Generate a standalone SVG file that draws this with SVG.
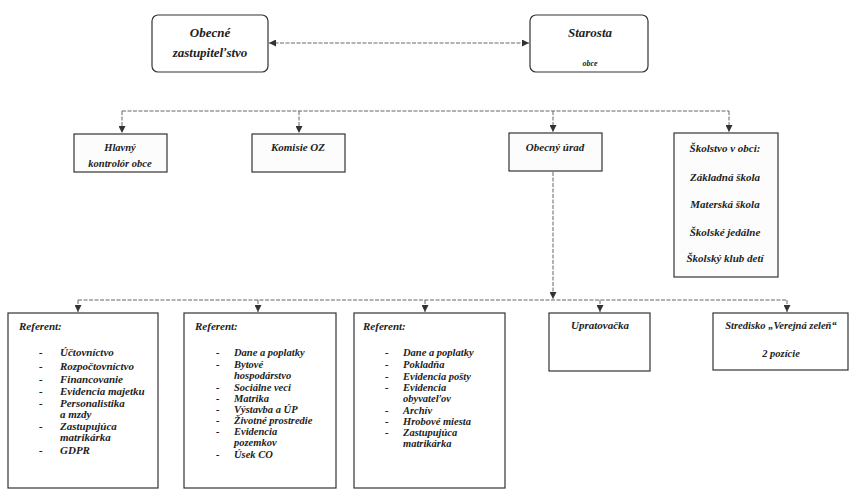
<svg xmlns="http://www.w3.org/2000/svg" width="851" height="490" viewBox="0 0 851 490">
<style>
text{font-family:"Liberation Serif",serif;font-style:italic;font-weight:bold;fill:#222}
.t12{font-size:13px}
.t11{font-size:11px}
.t10{font-size:10.5px}
.c{text-anchor:middle}
.box{fill:#fcfcfc;stroke:#333;stroke-width:1.2}
.rbox{fill:#fff;stroke:#333;stroke-width:1.2}
.con{fill:none;stroke:#666;stroke-width:1;stroke-dasharray:4 1.5}
</style>
<defs>
<marker id="ah" viewBox="0 0 10 10" refX="10" refY="5" markerWidth="7" markerHeight="7" orient="auto-start-reverse" markerUnits="userSpaceOnUse">
<path d="M0,0 L10,5 L0,10 z" fill="#333"/>
</marker>
</defs>
<g id="connectors">
<line class="con" x1="269" y1="43" x2="529" y2="43" marker-start="url(#ah)" marker-end="url(#ah)"/>
<line class="con" x1="122" y1="111" x2="729" y2="111"/>
<line class="con" x1="122" y1="111" x2="122" y2="133" marker-end="url(#ah)"/>
<line class="con" x1="299" y1="111" x2="299" y2="133" marker-end="url(#ah)"/>
<line class="con" x1="553" y1="111" x2="553" y2="132" marker-end="url(#ah)"/>
<line class="con" x1="729" y1="111" x2="729" y2="132" marker-end="url(#ah)"/>
<line class="con" x1="553" y1="172" x2="553" y2="299" marker-end="url(#ah)"/>
<line class="con" x1="78" y1="300" x2="787" y2="300"/>
<line class="con" x1="78" y1="300" x2="78" y2="312" marker-end="url(#ah)"/>
<line class="con" x1="258" y1="300" x2="258" y2="312" marker-end="url(#ah)"/>
<line class="con" x1="425" y1="300" x2="425" y2="312" marker-end="url(#ah)"/>
<line class="con" x1="600" y1="300" x2="600" y2="312" marker-end="url(#ah)"/>
<line class="con" x1="787" y1="300" x2="787" y2="312" marker-end="url(#ah)"/>
</g>
<g id="zastupitelstvo">
<rect class="rbox" x="152" y="15" width="116" height="57" rx="6"/>
<text class="t12 c" x="210" y="37">Obecné</text>
<text class="t12 c" x="210" y="57">zastupiteľstvo</text>
</g>
<g id="starosta">
<rect class="rbox" x="530" y="15" width="118" height="57" rx="6"/>
<text class="t12 c" x="590" y="37">Starosta</text>
<text class="c" x="590" y="66" font-size="8">obce</text>
</g>
<g id="kontrolor">
<rect class="box" x="74" y="134" width="93" height="38"/>
<text class="t10 c" x="120" y="151">Hlavný</text>
<text class="t10 c" x="120" y="167">kontrolór obce</text>
</g>
<g id="komisie">
<rect class="box" x="252" y="134" width="93" height="38"/>
<text class="t11 c" x="298" y="151">Komisie OZ</text>
</g>
<g id="urad">
<rect class="box" x="509" y="133" width="93" height="38"/>
<text class="t11 c" x="555" y="151">Obecný úrad</text>
</g>
<g id="skolstvo">
<rect class="box" x="674" y="133" width="104" height="144"/>
<text class="t11 c" x="725" y="152">Školstvo v obci:</text>
<text class="t11 c" x="725" y="181">Základná škola</text>
<text class="t11 c" x="725" y="208">Materská škola</text>
<text class="t11 c" x="725" y="236">Školské jedálne</text>
<text class="t11 c" x="725" y="262">Školský klub detí</text>
</g>
<g id="referent1">
<rect class="rbox" x="8" y="313" width="150" height="175"/>
<text class="t11" x="19" y="330">Referent:</text>
<g class="t11">
<text x="39" y="356">-</text><text x="60" y="356">Účtovníctvo</text>
<text x="39" y="370">-</text><text x="60" y="370">Rozpočtovníctvo</text>
<text x="39" y="383">-</text><text x="60" y="383">Financovanie</text>
<text x="39" y="395">-</text><text x="60" y="395">Evidencia majetku</text>
<text x="39" y="407">-</text><text x="60" y="407">Personalistika</text>
<text x="60" y="418">a mzdy</text>
<text x="39" y="430">-</text><text x="60" y="430">Zastupujúca</text>
<text x="60" y="441">matrikárka</text>
<text x="39" y="454">-</text><text x="60" y="454">GDPR</text>
</g>
</g>
<g id="referent2">
<rect class="rbox" x="184" y="313" width="152" height="175"/>
<text class="t11" x="195" y="330">Referent:</text>
<g class="t10">
<text x="216" y="356">-</text><text x="234" y="356">Dane a poplatky</text>
<text x="216" y="368">-</text><text x="234" y="368">Bytové</text>
<text x="234" y="379">hospodárstvo</text>
<text x="216" y="391">-</text><text x="234" y="391">Sociálne veci</text>
<text x="216" y="402">-</text><text x="234" y="402">Matrika</text>
<text x="216" y="413">-</text><text x="234" y="413">Výstavba a ÚP</text>
<text x="216" y="424">-</text><text x="234" y="424">Životné prostredie</text>
<text x="216" y="435">-</text><text x="234" y="435">Evidencia</text>
<text x="234" y="446">pozemkov</text>
<text x="216" y="458">-</text><text x="234" y="458">Úsek CO</text>
</g>
</g>
<g id="referent3">
<rect class="rbox" x="354" y="313" width="151" height="175"/>
<text class="t11" x="363" y="330">Referent:</text>
<g class="t10">
<text x="385" y="356">-</text><text x="403" y="356">Dane a poplatky</text>
<text x="385" y="368">-</text><text x="403" y="368">Pokladňa</text>
<text x="385" y="380">-</text><text x="403" y="380">Evidencia pošty</text>
<text x="385" y="391">-</text><text x="403" y="391">Evidencia</text>
<text x="403" y="402">obyvateľov</text>
<text x="385" y="414">-</text><text x="403" y="414">Archív</text>
<text x="385" y="425">-</text><text x="403" y="425">Hrobové miesta</text>
<text x="385" y="436">-</text><text x="403" y="436">Zastupujúca</text>
<text x="403" y="447">matrikárka</text>
</g>
</g>
<g id="upratovacka">
<rect class="rbox" x="549" y="313" width="101" height="58"/>
<text class="t11 c" x="600" y="329">Upratovačka</text>
</g>
<g id="stredisko">
<rect class="rbox" x="713" y="313" width="135" height="57"/>
<text class="t10 c" x="781" y="329">Stredisko „Verejná zeleň“</text>
<text class="t10 c" x="781" y="357">2 pozície</text>
</g>
</svg>
